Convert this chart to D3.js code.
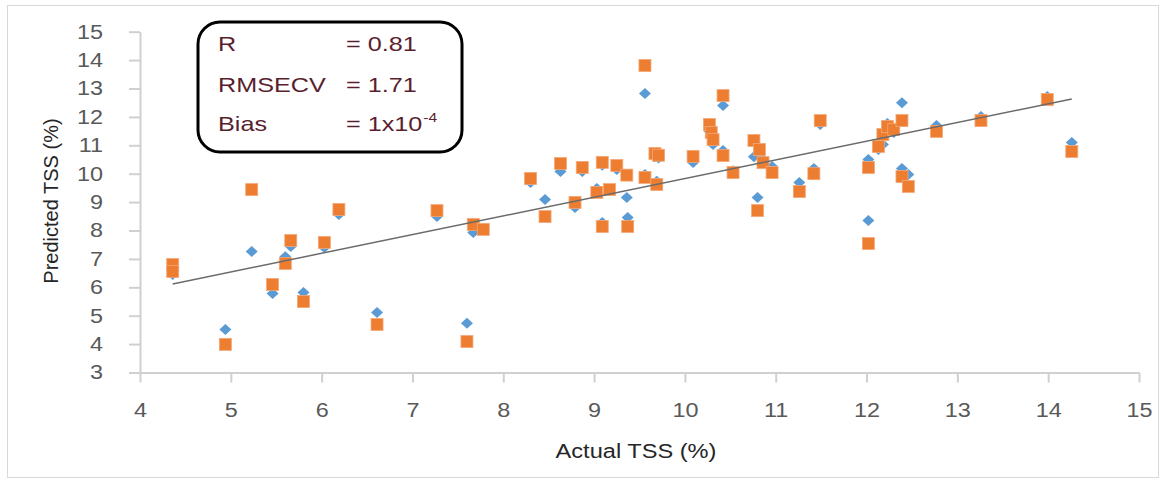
<!DOCTYPE html>
<head>
<style>
  body { margin: 0; background: #fff; }
  text { font-family: "Liberation Sans", Arial, sans-serif; }
</style>
</head>
<body>
<svg id="container" width="1165" height="483"></svg>
</body>
<script src="https://d3js.org/d3.v7.min.js"></script>
<script>

    // actual TSS and the two predicted series
    let actual = [4.36, 4.36, 4.94, 5.23, 5.46, 5.60, 5.66, 5.80, 6.03, 6.19,
        6.61, 7.27, 7.60, 7.67, 7.78, 8.30, 8.46, 8.63, 8.79, 8.87,
        9.03, 9.09, 9.09, 9.17, 9.25, 9.36, 9.37, 9.56, 9.56, 9.67,
        9.71, 9.69, 10.09, 10.27, 10.29, 10.31, 10.42, 10.42, 10.53, 10.76,
        10.80, 10.82, 10.86, 10.96, 11.26, 11.42, 11.49, 12.02, 12.02, 12.13,
        12.18, 12.23, 12.30, 12.39, 12.39, 12.46, 12.77, 13.26, 13.99, 14.26]
    let predBlue = [6.45, 6.55, 4.51, 7.26, 5.78, 7.08, 7.44, 5.82, 7.40, 8.56,
        5.11, 8.49, 4.73, 7.93, 8.05, 9.69, 9.09, 10.08, 8.81, 10.08,
        9.48, 10.30, 8.28, 9.40, 10.15, 9.16, 8.46, 12.82, 9.97, 10.60,
        10.55, 9.73, 10.39, 11.50, 11.30, 11.03, 12.40, 10.82, 10.10, 10.60,
        9.16, 10.70, 10.50, 10.25, 9.69, 10.18, 11.73, 10.50, 8.35, 10.85,
        11.03, 11.77, 11.45, 12.50, 10.18, 9.97, 11.70, 12.01, 12.72, 11.10]
    let predOrange = [6.80, 6.56, 3.99, 9.44, 6.10, 6.84, 7.65, 5.50, 7.58, 8.74,
        4.69, 8.70, 4.09, 8.21, 8.04, 9.83, 8.49, 10.36, 8.99, 10.22,
        9.34, 10.40, 8.14, 9.44, 10.29, 9.95, 8.14, 13.81, 9.87, 10.71,
        10.65, 9.62, 10.61, 11.73, 11.45, 11.20, 12.75, 10.64, 10.04, 11.17,
        8.70, 10.85, 10.39, 10.04, 9.37, 10.00, 11.87, 10.22, 7.54, 10.96,
        11.38, 11.66, 11.56, 11.87, 9.90, 9.55, 11.49, 11.87, 12.61, 10.78]

    // trend line ends
    let trendX = [4.36, 14.26]
    let trendY = [6.12, 12.63]

    let xTicks = [4, 5, 6, 7, 8, 9, 10, 11, 12, 13, 14, 15]
    let yTicks = [3, 4, 5, 6, 7, 8, 9, 10, 11, 12, 13, 14, 15]

    let statLabels = ["R", "RMSECV", "Bias"]
    let statValues = ["= 0.81", "= 1.71", "= 1x10"]

    // the original picture is a bit wider than tall, so text gets stretched
    function stretch(sel, k) {
        sel.each(function () {
            let len = this.getComputedTextLength()
            d3.select(this)
                .attr("textLength", len * k)
                .attr("lengthAdjust", "spacingAndGlyphs")
        })
    }

    let svg = d3.select("#container")

    // light outer frame
    svg.append("rect")
        .attr("x", 7.5).attr("y", 5.5)
        .attr("width", 1151).attr("height", 472)
        .attr("fill", "none")
        .attr("stroke", "#d9d9d9")

    let xScale = d3.scaleLinear().domain([4, 15]).range([140, 1139])
    let yScale = d3.scaleLinear().domain([3, 15]).range([372.5, 31.7])

    let xAxis = d3.axisBottom(xScale)
        .tickValues(xTicks)
        .tickSize(10)
        .tickSizeOuter(0)
        .tickPadding(20)
    let yAxis = d3.axisLeft(yScale)
        .tickValues(yTicks)
        .tickSize(11)
        .tickSizeOuter(0)
        .tickPadding(26)

    svg.append("g")
        .attr("transform", "translate(0," + yScale(3) + ")")
        .call(xAxis)
    svg.append("g")
        .attr("transform", "translate(" + xScale(4) + ",0)")
        .call(yAxis)

    svg.selectAll(".domain, .tick line")
        .attr("stroke", "#d0d0d0")
        .attr("stroke-width", 2)
    svg.selectAll(".tick text")
        .attr("fill", "#595959")
        .style("font-size", "20px")
        .call(stretch, 1.17)

    // axis titles
    svg.append("text")
        .attr("x", 636).attr("y", 458)
        .attr("text-anchor", "middle")
        .attr("fill", "#262626")
        .style("font-size", "20px")
        .text("Actual TSS (%)")
        .call(stretch, 1.18)

    svg.append("text")
        .attr("transform", "translate(58,201) rotate(-90)")
        .attr("text-anchor", "middle")
        .attr("fill", "#262626")
        .style("font-size", "20px")
        .text("Predicted TSS (%)")

    let idx = d3.range(actual.length)

    // blue diamonds
    svg.append("g").selectAll("path")
        .data(idx)
        .enter()
        .append("path")
        .attr("d", "M0,-5.5L6,0L0,5.5L-6,0Z")
        .attr("transform", i => "translate(" + xScale(actual[i]) + "," + yScale(predBlue[i]) + ")")
        .attr("fill", "#5b9bd5")

    // orange squares
    svg.append("g").selectAll("rect")
        .data(idx)
        .enter()
        .append("rect")
        .attr("x", i => xScale(actual[i]) - 6)
        .attr("y", i => yScale(predOrange[i]) - 6)
        .attr("width", 12)
        .attr("height", 12)
        .attr("fill", "#ed7d31")
        .attr("stroke", "#f4a877")
        .attr("stroke-width", 0.8)

    // trend line
    svg.append("line")
        .attr("x1", xScale(trendX[0])).attr("y1", yScale(trendY[0]))
        .attr("x2", xScale(trendX[1])).attr("y2", yScale(trendY[1]))
        .attr("stroke", "#6b6b6b")
        .attr("stroke-width", 1.5)

    // stats box
    svg.append("rect")
        .attr("x", 198).attr("y", 22)
        .attr("width", 264).attr("height", 130)
        .attr("rx", 22)
        .attr("fill", "#fff")
        .attr("stroke", "#000")
        .attr("stroke-width", 3)

    let rowY = [51, 92, 131]
    statLabels.forEach((s, i) => {
        svg.append("text")
            .attr("x", 218).attr("y", rowY[i])
            .attr("fill", "#5a1f2f")
            .style("font-size", "21px")
            .text(s)
            .call(stretch, 1.2)
        let t = svg.append("text")
            .attr("x", 346).attr("y", rowY[i])
            .attr("fill", "#5a1f2f")
            .style("font-size", "21px")
            .text(statValues[i])
        let w = t.node().getComputedTextLength() * 1.2
        t.attr("textLength", w).attr("lengthAdjust", "spacingAndGlyphs")
        if (i == 2) {
            svg.append("text")
                .attr("x", 346 + w + 1).attr("y", rowY[i] - 9)
                .attr("fill", "#5a1f2f")
                .style("font-size", "13px")
                .text("-4")
                .call(stretch, 1.2)
        }
    })

</script>
